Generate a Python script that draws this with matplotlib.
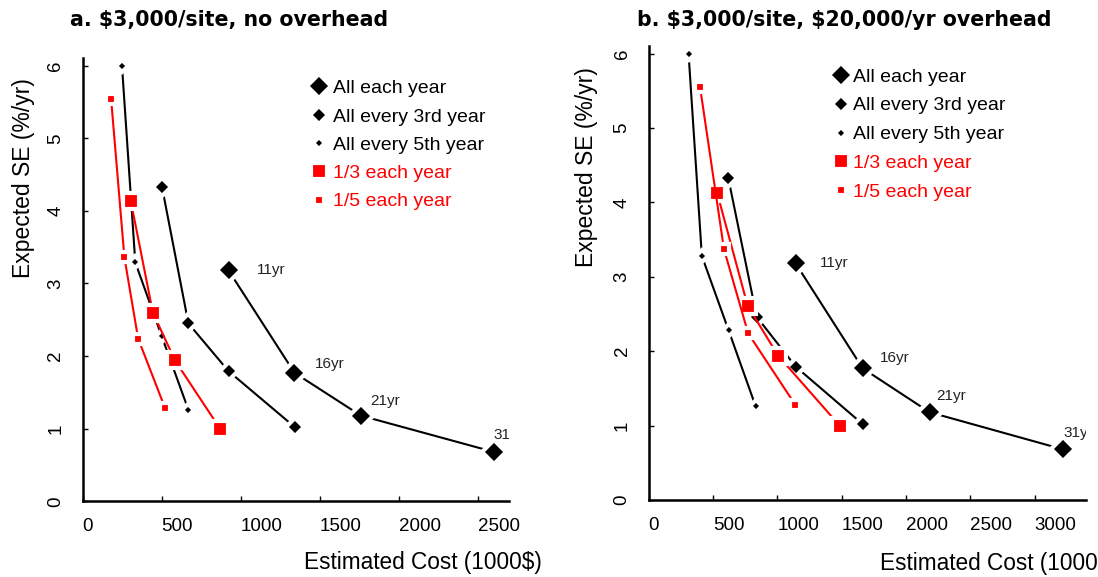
import matplotlib
matplotlib.use("Agg")
import matplotlib.pyplot as plt
from matplotlib.lines import Line2D

plt.rcParams['font.family'] = ['Liberation Sans', 'DejaVu Sans']

# series names (legend order)
series_names = ['All each year', 'All every 3rd year', 'All every 5th year',
                '1/3 each year', '1/5 each year']

# panel a: $3,000/site, no overhead  (cost in 1000$, SE in %/yr)
cost_a = [
    [924, 1341, 1761, 2602],   # all each year
    [503, 670, 925, 1344],     # all every 3rd year
    [250, 334, 500, 670],      # all every 5th year
    [306, 445, 585, 870],      # 1/3 each year
    [181, 265, 352, 523],      # 1/5 each year
]
se_a = [
    [3.18, 1.77, 1.18, 0.68],
    [4.33, 2.45, 1.79, 1.02],
    [5.99, 3.29, 2.28, 1.26],
    [4.13, 2.60, 1.94, 1.00],
    [5.54, 3.36, 2.24, 1.28],
]
years_a = ['11yr', '16yr', '21yr', '31']

# panel b: $3,000/site, $20,000/yr overhead
cost_b = [
    [1143, 1664, 2184, 3222],
    [619, 841, 1145, 1664],
    [311, 414, 622, 832],
    [534, 770, 1007, 1490],
    [400, 586, 774, 1140],
]
se_b = [
    [3.18, 1.77, 1.18, 0.68],
    [4.33, 2.46, 1.79, 1.02],
    [5.99, 3.28, 2.28, 1.26],
    [4.12, 2.61, 1.94, 0.99],
    [5.55, 3.37, 2.24, 1.28],
]
years_b = ['11yr', '16yr', '21yr', '31y']

RED = '#FF0000'
colors = ['black', 'black', 'black', RED, RED]
markers = ['D', 'D', 'D', 's', 's']
msizes = [12.2, 9.3, 5.9, 11.4, 7.3]
EDGE = 3.0


def draw_panel(ax, costs, ses, years, year_offsets, xmax, leg_anchor, leg_pad, leg_space):
    for x, y, c, m, s in zip(costs, ses, colors, markers, msizes):
        ax.plot(x, y, color=c, lw=1.5, marker=m, ms=s, mfc=c, mec='white',
                mew=EDGE, solid_joinstyle='miter')

    # year labels next to "All each year" points
    for xv, yv, txt, off in zip(costs[0], ses[0], years, year_offsets):
        ax.annotate(txt, xy=(xv, yv), xytext=off, textcoords='offset pixels',
                    ha='left', va='center', fontsize=11, color='#222222',
                    clip_on=True)

    ax.set_xlim(0, xmax)
    ax.set_ylim(0, 6.1)
    ax.set_xticks(range(0, xmax, 500))
    ax.set_yticks(range(0, 7))
    for sp in ['top', 'right']:
        ax.spines[sp].set_visible(False)
    for sp in ['left', 'bottom']:
        ax.spines[sp].set_linewidth(1.8)
    ax.tick_params(direction='in', length=3.5, width=1, labelsize=13.5)
    ax.tick_params(axis='x', pad=12)
    ax.tick_params(axis='y', pad=13, labelrotation=90)
    for lbl in ax.get_xticklabels():
        lbl.set_ha('left')
    for lbl in ax.get_yticklabels():
        lbl.set_va('center')

    handles = [Line2D([], [], ls='none', marker=m, ms=s, mfc=c, mec='white', mew=EDGE)
               for c, m, s in zip(colors, markers, msizes)]
    leg = ax.legend(handles, series_names, loc='upper left', bbox_to_anchor=leg_anchor,
                    frameon=False, fontsize=14, handlelength=0.8,
                    handletextpad=leg_pad, labelspacing=leg_space, borderpad=0,
                    borderaxespad=0)
    for t, c in zip(leg.get_texts(), colors):
        t.set_color(c)


W, H = 1098, 577
fig = plt.figure(figsize=(W / 100, H / 100), dpi=100)

ax_a = fig.add_axes([82.5 / W, 1 - 501.3 / H, 426.8 / W, 442.9 / H])
ax_b = fig.add_axes([648.6 / W, 1 - 500.0 / H, 437.4 / W, 453.8 / H])

draw_panel(ax_a, cost_a, se_a, years_a,
           [(28, 0), (20, 9), (9, 15), (0, 17)], 2700, (0.537, 0.952), 0.3, 0.55)
draw_panel(ax_b, cost_b, se_b, years_b,
           [(24, 0), (17, 10), (7, 16), (0, 16)], 3400, (0.423, 0.952), 0.2, 0.58)

for ax, xl, yl in [(ax_a, (1.076, -0.139), (-0.139, 0.729)),
                   (ax_b, (1.073, -0.139), (-0.141, 0.733))]:
    ax.set_xlabel('Estimated Cost (1000$)', fontsize=16.3)
    ax.xaxis.set_label_coords(*xl)
    ax.xaxis.label.set_ha('right')
    ax.xaxis.label.set_va('center')
    ax.set_ylabel('Expected SE (%/yr)', fontsize=16.5)
    ax.yaxis.set_label_coords(*yl)
    ax.yaxis.label.set_va('center')

fig.text(70 / W, 1 - 20 / H, 'a. $3,000/site, no overhead', fontfamily='DejaVu Sans',
         fontweight='bold', fontsize=14.8, ha='left', va='center', parse_math=False)
fig.text(637 / W, 1 - 20 / H, 'b. $3,000/site, $20,000/yr overhead', fontfamily='DejaVu Sans',
         fontweight='bold', fontsize=14.8, ha='left', va='center', parse_math=False)

fig.savefig('out.png', dpi=100)
